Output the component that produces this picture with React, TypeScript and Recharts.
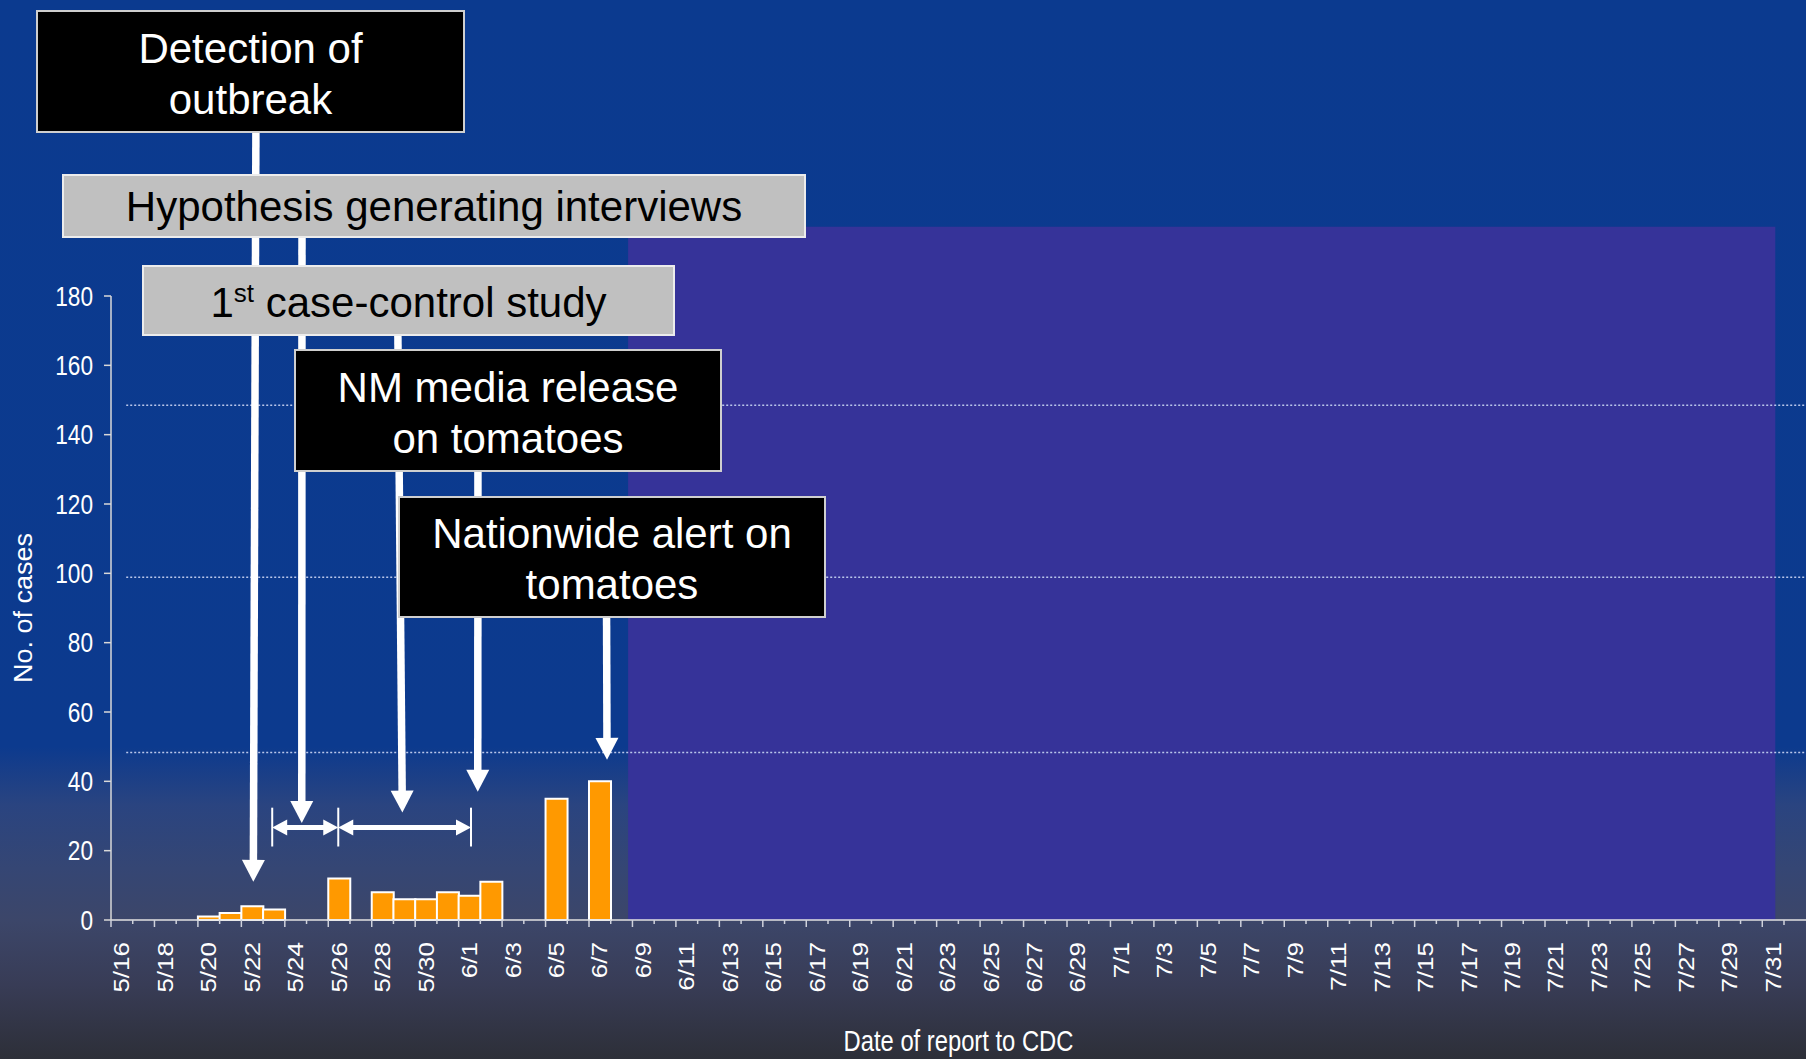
import React from "react";
import {
  BarChart,
  Bar,
  XAxis,
  YAxis,
  ReferenceLine,
  ReferenceArea,
  Label,
} from "recharts";

// report dates, 5/16 .. 7/31
const MONTHS: Array<[number, number, number]> = [
  [5, 16, 31],
  [6, 1, 30],
  [7, 1, 31],
];
const DATES: string[] = MONTHS.flatMap(([m, from, to]) =>
  Array.from({ length: to - from + 1 }, (_, i) => `${m}/${from + i}`)
);

// cases reported per day
const CASES_MAY = [0, 0, 0, 0, 1, 2, 4, 3, 0, 0, 12, 0, 8, 6, 6, 8]; // 5/16-5/31
const CASES_JUNE = [
  7, 11, 0, 0, 35, 0, 40, 0, 0, 0, 0, 0, 0, 0, 0,
  0, 0, 0, 0, 0, 0, 0, 0, 0, 0, 0, 0, 0, 0, 0,
]; // 6/1-6/30
const CASES_JULY = [
  0, 0, 0, 0, 0, 0, 0, 0, 0, 0, 0, 0, 0, 0, 0, 0,
  0, 0, 0, 0, 0, 0, 0, 0, 0, 0, 0, 0, 0, 0, 0,
]; // 7/1-7/31
const CASES = [...CASES_MAY, ...CASES_JUNE, ...CASES_JULY];

const Y_TICKS = [0, 20, 40, 60, 80, 100, 120, 140, 160, 180];

// template guide lines (dotted) across the slide, in case units
const GUIDE_LEVELS = [148.5, 98.9, 48.3];

// masked (not yet reported) period, on the day-index axis
const MASK = { from: 23.8, to: 76.6, top: 200 };

// timeline arrows: [day index, cases] from -> to
const EVENT_ARROWS: Array<[[number, number], [number, number]]> = [
  [[6.67, 229], [6.55, 11]], // detection
  [[8.79, 199], [8.78, 28]], // hypothesis interviews
  [[13.19, 178], [13.41, 31]], // 1st case-control
  [[16.89, 144], [16.88, 37]], // NM media release
  [[22.8, 104], [22.83, 46.2]], // nationwide alert
];
// study periods (double arrows) on day index axis
const PERIOD_EDGES = [7.42, 10.46, 16.57];
const PERIOD_LEVEL = 26.7;

// pos = centre of each day on a continuous day-index axis
const rows = DATES.map((date, i) => ({ date, pos: i + 0.5, cases: CASES[i] }));

const W = 1806;
const H = 1059;
const FONT = '"Liberation Sans", Arial, sans-serif';

function Arrow(props: any) {
  const { x1, y1, x2, y2, head = 22, half = 11.5, w = 7.5, both = false } = props;
  const len = Math.hypot(x2 - x1, y2 - y1) || 1;
  const ux = (x2 - x1) / len;
  const uy = (y2 - y1) / len;
  const px = -uy;
  const py = ux;
  const tri = (tx: number, ty: number, dir: number) => {
    const bx = tx - dir * ux * head;
    const by = ty - dir * uy * head;
    return `${tx},${ty} ${bx + px * half},${by + py * half} ${bx - px * half},${by - py * half}`;
  };
  const sx = both ? x1 + ux * head * 0.8 : x1;
  const sy = both ? y1 + uy * head * 0.8 : y1;
  return (
    <g>
      <line
        x1={sx}
        y1={sy}
        x2={x2 - ux * head * 0.8}
        y2={y2 - uy * head * 0.8}
        stroke="#fff"
        strokeWidth={w}
      />
      <polygon points={tri(x2, y2, 1)} fill="#fff" />
      {both && <polygon points={tri(x1, y1, -1)} fill="#fff" />}
    </g>
  );
}

function DateTick(props: any) {
  const { x, y, payload } = props;
  const i = props.index ?? payload.index ?? 0;
  const half = payload.offset ?? 10.86;
  const bx = x - half;
  const even = i % 2 === 0;
  return (
    <g>
      <line x1={bx} y1={y} x2={bx} y2={y + (even ? 7 : 4)} stroke="#cfd2dc" strokeWidth={1.5} />
      {i === DATES.length - 1 && (
        <line x1={x + half} y1={y} x2={x + half} y2={y + 5} stroke="#cfd2dc" strokeWidth={1.5} />
      )}
      {even && (
        <text
          transform={`translate(${x},${y + 22}) scale(0.82,1) rotate(-90)`}
          textAnchor="end"
          dominantBaseline="central"
          fontSize={26}
          fontFamily={FONT}
          fill="#ffffff"
        >
          {payload.value}
        </text>
      )}
    </g>
  );
}

function CaseTick(props: any) {
  const { x, y, payload } = props;
  return (
    <text
      transform={`translate(${x},${y}) scale(0.84,1)`}
      textAnchor="end"
      dominantBaseline="central"
      fontSize={27}
      fontFamily={FONT}
      fill="#ffffff"
    >
      {payload.value}
    </text>
  );
}

const boxBase: React.CSSProperties = {
  position: "absolute",
  boxSizing: "border-box",
  display: "flex",
  alignItems: "center",
  justifyContent: "center",
  textAlign: "center",
  fontFamily: FONT,
  fontSize: 42,
  lineHeight: "51px",
};
const darkBox: React.CSSProperties = {
  ...boxBase,
  background: "#000",
  color: "#fff",
  border: "2px solid #cfcfcf",
  paddingTop: 4,
};
const greyBox: React.CSSProperties = {
  ...boxBase,
  background: "#c0c0c0",
  color: "#000",
  border: "2px solid #ececec",
};

export default function App() {
  return (
    <div
      style={{
        position: "absolute",
        left: 0,
        top: 0,
        width: W,
        height: H,
        overflow: "hidden",
        background:
          "linear-gradient(180deg, #0b3a8f 0%, #0c3a8e 70.5%, #2a4480 76%, #354674 82%, #3c4669 87%, #383c56 93%, #2d2f38 100%)",
      }}
    >
      <BarChart
        width={W}
        height={H}
        data={rows}
        margin={{ top: 296, right: 22, bottom: 0, left: 0 }}
        barCategoryGap={0}
        barGap={0}
      >
        <XAxis
          xAxisId="cat"
          dataKey="date"
          height={139}
          interval={0}
          tickLine={false}
          axisLine={false}
          tickSize={0}
          tickMargin={0}
          tick={<DateTick />}
        >
          <Label
            content={(p: any) => {
              const vb = p.viewBox;
              return (
                <text
                  transform={`translate(${vb.x + vb.width / 2 + 11},${vb.y + 121}) scale(0.82,1)`}
                  textAnchor="middle"
                  dominantBaseline="central"
                  fontSize={29}
                  fontFamily={FONT}
                  fill="#ffffff"
                >
                  Date of report to CDC
                </text>
              );
            }}
          />
        </XAxis>
        <XAxis
          xAxisId="n"
          dataKey="pos"
          type="number"
          domain={[0, DATES.length]}
          orientation="top"
          allowDataOverflow
          hide
        />
        <YAxis
          width={111}
          domain={[0, 180]}
          ticks={Y_TICKS}
          interval={0}
          tickSize={7}
          tickMargin={11}
          tick={<CaseTick />}
          axisLine={{ stroke: "#d8d8d8", strokeWidth: 1.5 }}
          tickLine={{ stroke: "#d8d8d8", strokeWidth: 1.5 }}
        >
          <Label
            content={(p: any) => {
              const vb = p.viewBox;
              return (
                <text
                  transform={`translate(${vb.x + 23},${vb.y + vb.height / 2}) scale(0.95,1) rotate(-90)`}
                  textAnchor="middle"
                  dominantBaseline="central"
                  fontSize={27}
                  fontFamily={FONT}
                  fill="#ffffff"
                >
                  No. of cases
                </text>
              );
            }}
          />
        </YAxis>

        {/* baseline, runs to the slide edge */}
        <ReferenceLine
          xAxisId="n"
          segment={[
            { x: 0, y: 0 },
            { x: 78.1, y: 0 },
          ]}
          stroke="#e2e2e2"
          strokeWidth={1.5}
          ifOverflow="visible"
        />
        <ReferenceArea
          xAxisId="n"
          x1={MASK.from}
          x2={MASK.to}
          y1={0}
          y2={MASK.top}
          fill="#363399"
          fillOpacity={1}
          stroke="none"
          ifOverflow="visible"
        />
        {GUIDE_LEVELS.map((lv) => (
          <ReferenceLine
            key={lv}
            xAxisId="n"
            segment={[
              { x: 0.7, y: lv },
              { x: 78.1, y: lv },
            ]}
            stroke="#b9c6ea"
            strokeWidth={1.5}
            strokeDasharray="2 2"
            ifOverflow="visible"
          />
        ))}

        <Bar
          xAxisId="cat"
          dataKey="cases"
          fill="#ff9900"
          stroke="#ffffff"
          strokeWidth={2}
          isAnimationActive={false}
        />

        {EVENT_ARROWS.map(([from, to], k) => (
          <ReferenceLine
            key={`ev${k}`}
            xAxisId="n"
            segment={[
              { x: from[0], y: from[1] },
              { x: to[0], y: to[1] },
            ]}
            ifOverflow="visible"
            shape={(p: any) => <Arrow {...p} />}
          />
        ))}
        {PERIOD_EDGES.map((e) => (
          <ReferenceLine
            key={`edge${e}`}
            xAxisId="n"
            segment={[
              { x: e, y: PERIOD_LEVEL + 5.7 },
              { x: e, y: PERIOD_LEVEL - 5.5 },
            ]}
            stroke="#ffffff"
            strokeWidth={2}
            ifOverflow="visible"
          />
        ))}
        {PERIOD_EDGES.slice(1).map((e, k) => (
          <ReferenceLine
            key={`per${k}`}
            xAxisId="n"
            segment={[
              { x: PERIOD_EDGES[k], y: PERIOD_LEVEL },
              { x: e, y: PERIOD_LEVEL },
            ]}
            ifOverflow="visible"
            shape={(p: any) => <Arrow {...p} head={15} half={8} w={5} both />}
          />
        ))}
      </BarChart>

      <div style={{ ...darkBox, left: 36, top: 10, width: 429, height: 123 }}>
        Detection of
        <br />
        outbreak
      </div>
      <div style={{ ...greyBox, left: 62, top: 174, width: 744, height: 64 }}>
        Hypothesis generating interviews
      </div>
      <div style={{ ...greyBox, left: 142, top: 265, width: 533, height: 71, paddingTop: 9 }}>
        <span>
          1
          <span style={{ fontSize: 26, position: "relative", top: -15 }}>st</span> case-control study
        </span>
      </div>
      <div style={{ ...darkBox, left: 294, top: 349, width: 428, height: 123 }}>
        NM media release
        <br />
        on tomatoes
      </div>
      <div style={{ ...darkBox, left: 398, top: 496, width: 428, height: 122 }}>
        Nationwide alert on
        <br />
        tomatoes
      </div>
    </div>
  );
}
